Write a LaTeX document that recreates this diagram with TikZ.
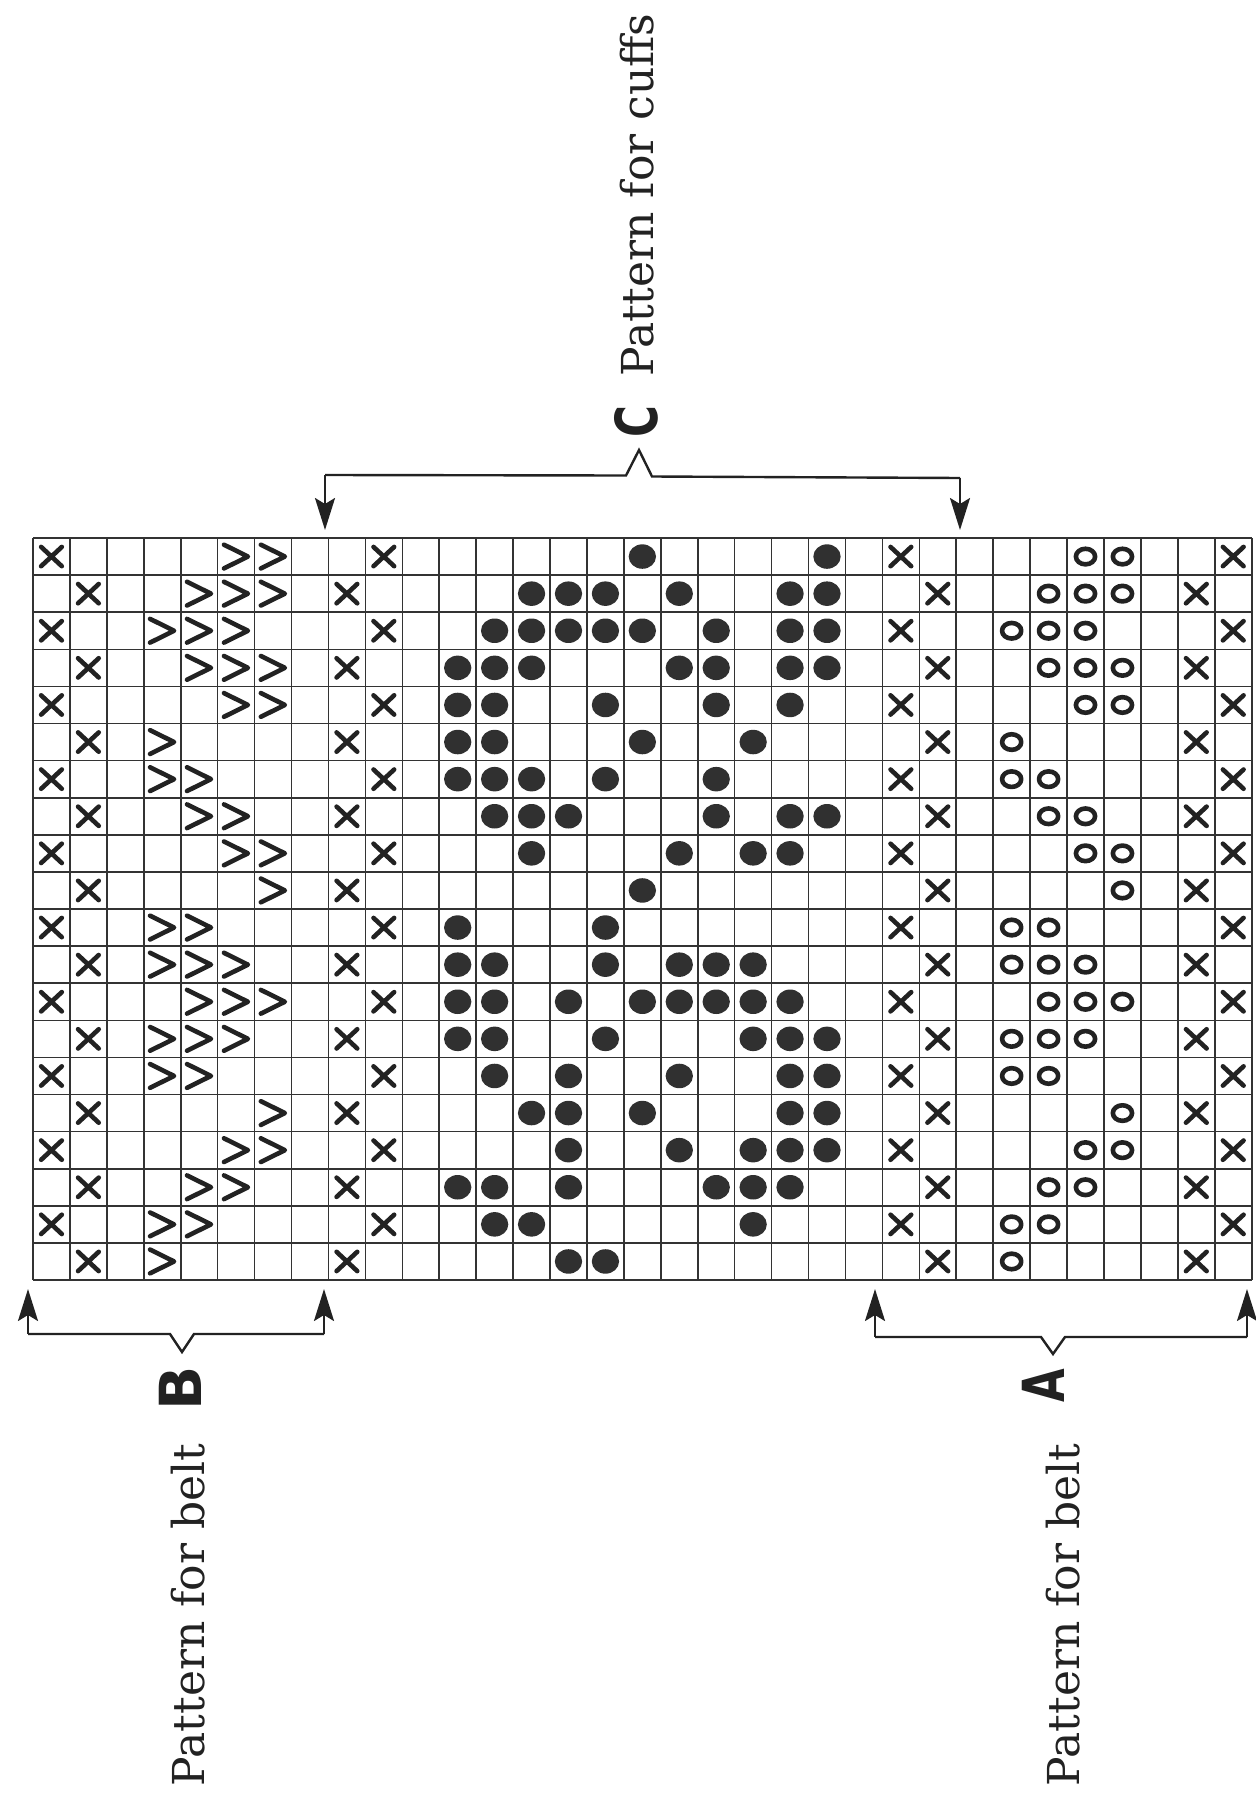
\documentclass[tikz,border=0pt]{standalone}
\usepackage{fontspec}
\newfontfamily\labelfont{DejaVu Serif}
\newfontfamily\letterfont{DejaVu Sans}
\usetikzlibrary{arrows.meta}
\definecolor{ink}{HTML}{222222}
\definecolor{dotink}{HTML}{303030}
\definecolor{gridink}{HTML}{333333}
\tikzset{
  symline/.style={draw=ink, line width=2.3pt, line cap=round, line join=round},
  gridline/.style={draw=gridink, line width=0.8pt},
  bracket/.style={draw=ink, line width=1.2pt},
  arr/.style={-{Stealth[length=16pt,width=10pt,inset=3pt]}},
  xmark/.pic={\draw[symline] (-0.28,-0.26) -- (0.28,0.26) (-0.28,0.26) -- (0.28,-0.26);},
  vmark/.pic={\draw[symline] (-0.33,-0.32) -- (0.32,0) -- (-0.33,0.32);},
  dotmark/.pic={\fill[dotink] (0,0) ellipse [x radius=0.37, y radius=0.33];},
  ringmark/.pic={\draw[symline] (0,0) ellipse [x radius=0.26, y radius=0.21];},
  patterntext/.style={font=\labelfont\fontsize{22pt}{24pt}\selectfont, rotate=90, inner sep=0pt, text=ink},
  letter/.style={font=\letterfont\bfseries\fontsize{29pt}{30pt}\selectfont, rotate=90, inner sep=0pt, text=ink},
}
\begin{document}
\begin{tikzpicture}[x=0.5pt,y=-0.5pt]
\useasboundingbox (0,0) rectangle (1256,1803);
\begin{scope}[shift={(33,538)}, x=18.465pt, y=-18.55pt]
  % grid
  \foreach \i in {0,...,33} \draw[gridline] (\i,0) -- (\i,20);
  \foreach \j in {0,...,20} \draw[gridline] (0,\j) -- (33,\j);
  % crosses
  \foreach \r in {1,3,...,19} \foreach \c in {1,10,24,33} \pic at (\c-0.5,\r-0.5) {xmark};
  \foreach \r in {2,4,...,20} \foreach \c in {2,9,25,32} \pic at (\c-0.5,\r-0.5) {xmark};
  % chevrons (left) and rings (right, same pattern shifted by 23 columns)
  \foreach \r/\cs in {1/{6,7},2/{5,6,7},3/{4,5,6},4/{5,6,7},5/{6,7},6/{4},7/{4,5},8/{5,6},9/{6,7},10/{7},
                      11/{4,5},12/{4,5,6},13/{5,6,7},14/{4,5,6},15/{4,5},16/{7},17/{6,7},18/{5,6},19/{4,5},20/{4}}
  {
    \foreach \c in \cs {
      \pic at (\c-0.5,\r-0.5) {vmark};
      \pic at (\c+22.5,\r-0.5) {ringmark};
    }
  }
  % dots
  \foreach \r/\cs in {1/{17,22},2/{14,15,16,18,21,22},3/{13,14,15,16,17,19,21,22},4/{12,13,14,18,19,21,22},
                      5/{12,13,16,19,21},6/{12,13,17,20},7/{12,13,14,16,19},8/{13,14,15,19,21,22},
                      9/{14,18,20,21},10/{17},11/{12,16},12/{12,13,16,18,19,20},13/{12,13,15,17,18,19,20,21},
                      14/{12,13,16,20,21,22},15/{13,15,18,21,22},16/{14,15,17,21,22},17/{15,18,20,21,22},
                      18/{12,13,15,19,20,21},19/{13,14,20},20/{15,16}}
  {
    \foreach \c in \cs \pic at (\c-0.5,\r-0.5) {dotmark};
  }
\end{scope}

% bracket C (top)
\coordinate (cL) at (325,475);
\coordinate (cR) at (960,478);
\coordinate (cLt) at (325,530);
\coordinate (cRt) at (960,530);
\draw[bracket, arr] (cL) -- (cLt);
\draw[bracket, arr] (cR) -- (cRt);
\draw[bracket] (cL) -- (626,475.5) -- (639,450) -- (652,476.5) -- (cR);

% bracket B (bottom left)
\coordinate (bL) at (28,1334);
\coordinate (bR) at (324,1334);
\coordinate (bLt) at (28,1289);
\coordinate (bRt) at (324,1289);
\draw[bracket, arr] (bL) -- (bLt);
\draw[bracket, arr] (bR) -- (bRt);
\draw[bracket] (bL) -- (170,1334) -- (182,1352) -- (194,1334) -- (bR);

% bracket A (bottom right)
\coordinate (aL) at (875,1337);
\coordinate (aR) at (1247,1337);
\coordinate (aLt) at (875,1289);
\coordinate (aRt) at (1247,1289);
\draw[bracket, arr] (aL) -- (aLt);
\draw[bracket, arr] (aR) -- (aRt);
\draw[bracket] (aL) -- (1041,1337) -- (1053,1354) -- (1065,1337) -- (aR);

% labels
\node[letter] (lC) at (636,422) {\scalebox{0.75}[1]{C}};
\node[letter] (lB) at (180,1388) {B};
\node[letter] (lA) at (1043,1386) {\scalebox{0.75}[1]{A}};
\node[patterntext] (cuffs) at (637,195) {Pattern for cuffs};
\node[patterntext] (beltB) at (188,1615) {Pattern for belt};
\node[patterntext] (beltA) at (1063,1615) {Pattern for belt};
\end{tikzpicture}
\end{document}
